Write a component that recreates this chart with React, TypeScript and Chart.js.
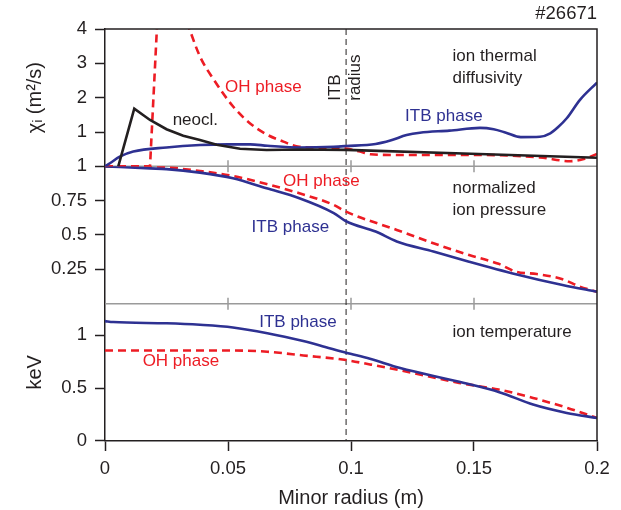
import React, { useEffect, useRef } from "react";
import { Chart, registerables } from "chart.js";

Chart.register(...registerables);

const FONT = "'Liberation Sans', Arial, Helvetica, sans-serif";
const BLUE = "#2e3192";
const RED = "#ed1c24";
const BLACK = "#231f20";
const GRAY = "#9a9a9a";

// ---- axes / ticks ----
const xTicks = [0, 0.05, 0.1, 0.15, 0.2];
const chiTicks = [1, 2, 3, 4];
const presTicks = [0.25, 0.5, 0.75, 1];
const tempTicks = [0, 0.5, 1];
const itbRadius = 0.098;

// ---- top panel: ion thermal diffusivity (m^2/s) ----
const chiItbR = [0, 0.002, 0.006, 0.0115, 0.025, 0.0386, 0.05, 0.059, 0.066, 0.079, 0.093, 0.098, 0.11, 0.116, 0.1226, 0.128, 0.14, 0.1524, 0.158, 0.163, 0.169, 0.1768, 0.181, 0.184, 0.1877, 0.193, 0.2];
const chiItb = [0, 0.09, 0.28, 0.43, 0.55, 0.62, 0.64, 0.64, 0.6, 0.55, 0.57, 0.59, 0.65, 0.75, 0.91, 0.98, 1.04, 1.12, 1.08, 0.98, 0.85, 0.86, 0.96, 1.13, 1.4, 1.93, 2.44];

const chiOhInnerR = [0, 0.0183, 0.0213];
const chiOhInner = [0, 0, 4.3];
const chiOhOuterR = [0.0333, 0.0386, 0.044, 0.052, 0.059, 0.0657, 0.0725, 0.079, 0.093, 0.098, 0.1037, 0.108, 0.12, 0.152, 0.1768, 0.189, 0.195, 0.2];
const chiOhOuter = [4.2, 3.2, 2.55, 1.75, 1.25, 0.93, 0.72, 0.57, 0.54, 0.52, 0.43, 0.35, 0.33, 0.33, 0.26, 0.15, 0.22, 0.36];

const chiNeoR = [0.0054, 0.0119, 0.0183, 0.025, 0.0318, 0.0386, 0.0454, 0.0549, 0.0657, 0.079, 0.098, 0.152, 0.2];
const chiNeo = [0, 1.68, 1.35, 1.08, 0.89, 0.77, 0.63, 0.51, 0.475, 0.49, 0.48, 0.36, 0.25];

// ---- middle panel: normalized ion pressure ----
const presItbR = [0, 0.0183, 0.025, 0.0386, 0.052, 0.0657, 0.079, 0.093, 0.098, 0.11, 0.1186, 0.1335, 0.148, 0.167, 0.186, 0.2];
const presItb = [1, 0.985, 0.98, 0.954, 0.913, 0.84, 0.768, 0.66, 0.6, 0.525, 0.453, 0.38, 0.306, 0.215, 0.136, 0.087];

const presOhR = [0, 0.0183, 0.025, 0.0386, 0.052, 0.0657, 0.079, 0.093, 0.098, 0.1186, 0.1335, 0.148, 0.16, 0.167, 0.1755, 0.186, 0.193, 0.2];
const presOh = [1, 1, 0.993, 0.966, 0.93, 0.871, 0.804, 0.719, 0.67, 0.537, 0.44, 0.354, 0.29, 0.233, 0.216, 0.178, 0.124, 0.087];

// ---- bottom panel: ion temperature (keV) ----
const tempItbR = [0, 0.0033, 0.025, 0.0386, 0.052, 0.066, 0.0806, 0.0874, 0.098, 0.1077, 0.12, 0.144, 0.1606, 0.174, 0.1877, 0.2];
const tempItb = [1.135, 1.126, 1.114, 1.1, 1.075, 1.02, 0.946, 0.905, 0.836, 0.779, 0.69, 0.56, 0.46, 0.345, 0.266, 0.218];

const tempOhR = [0, 0.052, 0.066, 0.0806, 0.098, 0.1077, 0.12, 0.144, 0.16, 0.174, 0.188, 0.2];
const tempOh = [0.857, 0.857, 0.845, 0.81, 0.766, 0.725, 0.67, 0.55, 0.487, 0.408, 0.313, 0.218];

// ---- annotations (data coordinates in each panel) ----
type Note = { text: string; x: number; y: number; axis: string; color: string; align?: CanvasTextAlign; rotate?: boolean; size?: number };
const notes: Note[] = [
  { text: "#26671", x: 0.2, y: 4.44, axis: "yT", color: BLACK, align: "right", size: 18.5 },
  { text: "ion thermal", x: 0.1413, y: 3.2, axis: "yT", color: BLACK },
  { text: "diffusivity", x: 0.1413, y: 2.57, axis: "yT", color: BLACK },
  { text: "OH phase", x: 0.0488, y: 2.29, axis: "yT", color: RED },
  { text: "neocl.", x: 0.0275, y: 1.35, axis: "yT", color: BLACK },
  { text: "ITB phase", x: 0.122, y: 1.47, axis: "yT", color: BLUE },
  { text: "ITB", x: 0.0935, y: 1.91, axis: "yT", color: BLACK, rotate: true },
  { text: "radius", x: 0.1016, y: 1.91, axis: "yT", color: BLACK, rotate: true },
  { text: "OH phase", x: 0.0724, y: 0.888, axis: "yM", color: RED },
  { text: "normalized", x: 0.1413, y: 0.84, axis: "yM", color: BLACK },
  { text: "ion pressure", x: 0.1413, y: 0.682, axis: "yM", color: BLACK },
  { text: "ITB phase", x: 0.0596, y: 0.556, axis: "yM", color: BLUE },
  { text: "ITB phase", x: 0.0627, y: 1.12, axis: "yB", color: BLUE },
  { text: "ion temperature", x: 0.1413, y: 1.026, axis: "yB", color: BLACK },
  { text: "OH phase", x: 0.0153, y: 0.75, axis: "yB", color: RED },
];

const zip = (xs: number[], ys: number[]) => xs.map((x, i) => ({ x, y: ys[i] }));

const panelPlugin = {
  id: "panelDecor",
  beforeDatasetsDraw(chart: any) {
    const { ctx, chartArea, scales } = chart;
    const x = scales.x;
    ctx.save();
    // gray separators between panels with small ticks
    ctx.strokeStyle = GRAY;
    ctx.lineWidth = 1.5;
    [scales.yM.top, scales.yB.top].forEach((yy: number) => {
      ctx.beginPath();
      ctx.moveTo(chartArea.left, yy);
      ctx.lineTo(chartArea.right, yy);
      xTicks.slice(1, -1).forEach((v) => {
        const px = x.getPixelForValue(v);
        ctx.moveTo(px, yy - 6);
        ctx.lineTo(px, yy + 6);
      });
      ctx.stroke();
    });
    // ITB radius dashed line
    const px = x.getPixelForValue(itbRadius);
    ctx.strokeStyle = BLACK;
    ctx.lineWidth = 1;
    ctx.setLineDash([6, 4]);
    ctx.beginPath();
    ctx.moveTo(px, chartArea.top);
    ctx.lineTo(px, chartArea.bottom);
    ctx.stroke();
    ctx.restore();
  },
  afterDatasetsDraw(chart: any) {
    const { ctx, chartArea, scales } = chart;
    ctx.save();
    ctx.strokeStyle = BLACK;
    ctx.lineWidth = 1.5;
    ctx.beginPath();
    ctx.moveTo(chartArea.left, chartArea.top);
    ctx.lineTo(chartArea.right, chartArea.top);
    ctx.lineTo(chartArea.right, chartArea.bottom);
    ctx.stroke();
    ctx.textBaseline = "middle";
    notes.forEach((n) => {
      const px = scales.x.getPixelForValue(n.x);
      const py = scales[n.axis].getPixelForValue(n.y);
      ctx.font = `${n.size || 17}px ${FONT}`;
      ctx.fillStyle = n.color;
      if (n.rotate) {
        ctx.save();
        ctx.translate(px, py);
        ctx.rotate(-Math.PI / 2);
        ctx.textAlign = "left";
        ctx.fillText(n.text, 0, 0);
        ctx.restore();
      } else {
        ctx.textAlign = n.align || "left";
        ctx.fillText(n.text, px, py);
      }
    });
    ctx.restore();
  },
};

const yAxis = (min: number, max: number, ticks: number[], weight: number, title?: string) => ({
  type: "linear",
  position: "left",
  stack: "panels",
  stackWeight: 1,
  weight,
  min,
  max,
  afterBuildTicks: (s: any) => {
    s.ticks = ticks.map((v) => ({ value: v }));
  },
  afterFit: (s: any) => {
    s.width = 105;
  },
  border: { display: true, color: BLACK, width: 1.5 },
  grid: { display: true, drawOnChartArea: false, drawTicks: true, tickLength: 10, tickColor: BLACK, tickWidth: 1.5 },
  ticks: { color: BLACK, padding: 8, autoSkip: false, font: { family: FONT, size: 18.5 }, callback: (v: any) => String(v) },
  title: title
    ? { display: true, text: title, color: BLACK, font: { family: FONT, size: 20 }, padding: { top: 23, bottom: 0 } }
    : { display: false },
});

export default function App() {
  const ref = useRef<HTMLCanvasElement | null>(null);
  useEffect(() => {
    document.body.style.margin = "0";
    if (!ref.current) return;
    const line = (data: any[], color: string, axis: string, dashed: boolean, smooth = true) => ({
      data,
      yAxisID: axis,
      borderColor: color,
      borderWidth: 2.6,
      borderDash: dashed ? [8, 5] : [],
      pointRadius: 0,
      fill: false,
      cubicInterpolationMode: smooth ? "monotone" : "default",
      tension: smooth ? 0.4 : 0,
    });
    const chart = new Chart(ref.current, {
      type: "line",
      data: {
        datasets: [
          line(zip(chiNeoR, chiNeo), BLACK, "yT", false, false),
          line(zip(chiItbR, chiItb), BLUE, "yT", false),
          line(zip(chiOhInnerR, chiOhInner), RED, "yT", true, false),
          line(zip(chiOhOuterR, chiOhOuter), RED, "yT", true),
          line(zip(presItbR, presItb), BLUE, "yM", false),
          line(zip(presOhR, presOh), RED, "yM", true),
          line(zip(tempItbR, tempItb), BLUE, "yB", false),
          line(zip(tempOhR, tempOh), RED, "yB", true),
        ] as any,
      },
      options: {
        animation: false,
        responsive: false,
        devicePixelRatio: 1,
        layout: { padding: { left: 0, top: 29, right: 24, bottom: 0 } },
        plugins: { legend: { display: false }, tooltip: { enabled: false } },
        scales: {
          x: {
            type: "linear",
            position: "bottom",
            min: 0,
            max: 0.2,
            afterBuildTicks: (s: any) => {
              s.ticks = xTicks.map((v) => ({ value: v }));
            },
            afterFit: (s: any) => {
              s.height = 69;
            },
            border: { display: true, color: BLACK, width: 1.5 },
            grid: { display: true, drawOnChartArea: false, drawTicks: true, tickLength: 10, tickColor: BLACK, tickWidth: 1.5 },
            ticks: { color: BLACK, padding: 7, maxRotation: 0, autoSkip: false, font: { family: FONT, size: 18.5 }, callback: (v: any) => String(v) },
            title: { display: true, text: "Minor radius (m)", color: BLACK, font: { family: FONT, size: 20 }, padding: { top: 0, bottom: 0 } },
          },
          yB: yAxis(0, 1.3, tempTicks, 1, "keV"),
          yM: yAxis(0, 1, presTicks, 2),
          yT: yAxis(0, 4, chiTicks, 3, "χᵢ (m²/s)"),
        } as any,
      },
      plugins: [panelPlugin],
    });
    return () => chart.destroy();
  }, []);
  return <canvas ref={ref} width={621} height={510} style={{ display: "block" }} />;
}
